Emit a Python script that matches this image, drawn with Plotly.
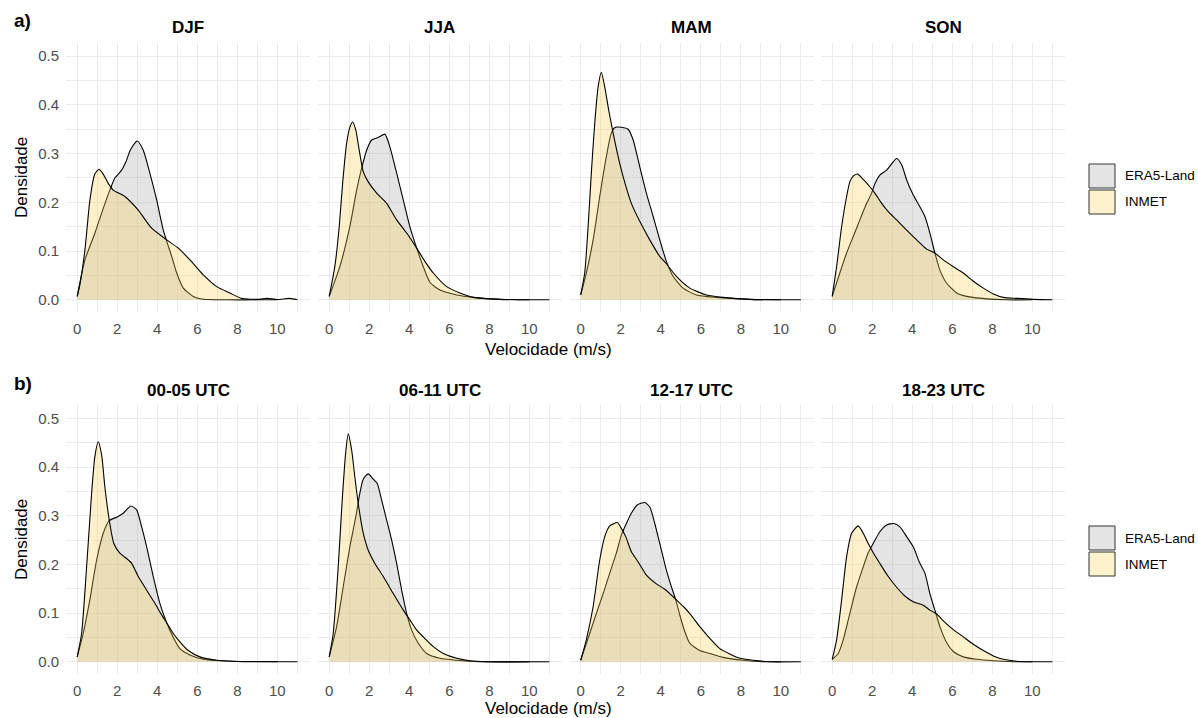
import plotly.graph_objects as go

W, H = 1198, 718

# ---------------- data ----------------
titles_top = ["DJF", "JJA", "MAM", "SON"]
titles_bottom = ["00-05 UTC", "06-11 UTC", "12-17 UTC", "18-23 UTC"]
series_names = ["ERA5-Land", "INMET"]
x_ticks = [0, 2, 4, 6, 8, 10]
y_ticks = [0.0, 0.1, 0.2, 0.3, 0.4, 0.5]

djf_era_x = [0, 0.385, 0.885, 1.22, 1.63, 1.88, 2.2, 2.45, 2.65, 3.0, 3.3, 3.63, 3.97, 4.3, 4.72, 4.97, 5.3, 5.8, 6.3, 7.5, 9.0, 10.0]
djf_era_y = [0.007, 0.082, 0.137, 0.178, 0.225, 0.25, 0.265, 0.285, 0.307, 0.326, 0.307, 0.26, 0.205, 0.143, 0.089, 0.055, 0.024, 0.007, 0.001, 0, 0, 0]
djf_inm_x = [0, 0.13, 0.385, 0.47, 0.635, 0.88, 1.09, 1.3, 1.55, 1.8, 2.38, 3.05, 3.72, 4.47, 5.05, 5.63, 6.3, 6.97, 7.63, 8.2, 9.1, 9.47, 10.0, 10.6, 11.0]
djf_inm_y = [0.007, 0.03, 0.102, 0.137, 0.205, 0.258, 0.268, 0.258, 0.239, 0.225, 0.212, 0.184, 0.147, 0.123, 0.106, 0.082, 0.051, 0.027, 0.014, 0.003, 0.001, 0.003, 0.0007, 0.003, 0.0]

jja_era_x = [0, 0.53, 1.03, 1.37, 1.62, 1.87, 2.12, 2.45, 2.78, 3.03, 3.37, 3.7, 4.03, 4.37, 4.7, 5.03, 5.53, 6.37, 7.2, 8.5, 10.0]
jja_era_y = [0.007, 0.068, 0.15, 0.225, 0.27, 0.307, 0.328, 0.333, 0.34, 0.314, 0.26, 0.205, 0.15, 0.106, 0.068, 0.036, 0.02, 0.01, 0.005, 0.001, 0]
jja_inm_x = [0, 0.28, 0.5, 0.67, 0.87, 1.03, 1.17, 1.33, 1.5, 1.7, 1.95, 2.37, 2.87, 3.37, 3.87, 4.37, 4.78, 5.2, 5.87, 6.53, 7.2, 8.53, 11.0]
jja_inm_y = [0.007, 0.068, 0.15, 0.239, 0.321, 0.354, 0.365, 0.348, 0.307, 0.263, 0.242, 0.219, 0.198, 0.164, 0.137, 0.106, 0.079, 0.055, 0.027, 0.014, 0.005, 0.001, 0]

mam_era_x = [0, 0.28, 0.62, 0.95, 1.28, 1.53, 1.73, 2.03, 2.37, 2.62, 2.95, 3.28, 3.62, 3.95, 4.28, 4.62, 5.12, 5.78, 6.78, 8.45, 10.0]
mam_era_y = [0.01, 0.055, 0.123, 0.212, 0.294, 0.342, 0.354, 0.354, 0.35, 0.328, 0.273, 0.219, 0.171, 0.123, 0.079, 0.048, 0.024, 0.01, 0.005, 0.001, 0]
mam_inm_x = [0, 0.2, 0.37, 0.53, 0.7, 0.87, 1.03, 1.2, 1.4, 1.62, 1.87, 2.12, 2.53, 2.95, 3.45, 3.95, 4.28, 4.78, 5.45, 6.28, 7.12, 8.45, 11.0]
mam_inm_y = [0.01, 0.055, 0.15, 0.26, 0.362, 0.437, 0.467, 0.437, 0.389, 0.342, 0.294, 0.253, 0.198, 0.161, 0.123, 0.089, 0.074, 0.048, 0.024, 0.01, 0.005, 0.001, 0]

son_era_x = [0, 0.38, 0.72, 1.05, 1.38, 1.72, 1.97, 2.13, 2.38, 2.72, 2.97, 3.22, 3.47, 3.72, 4.05, 4.38, 4.63, 4.88, 5.13, 5.38, 5.72, 6.22, 6.72, 7.72, 8.72, 10.0]
son_era_y = [0.007, 0.055, 0.096, 0.13, 0.164, 0.198, 0.219, 0.238, 0.256, 0.266, 0.279, 0.29, 0.277, 0.246, 0.215, 0.191, 0.171, 0.137, 0.096, 0.061, 0.034, 0.014, 0.007, 0.002, 0, 0]
son_inm_x = [0, 0.22, 0.47, 0.72, 0.88, 1.05, 1.27, 1.55, 1.88, 2.13, 2.47, 2.8, 3.22, 3.72, 4.22, 4.72, 5.13, 5.55, 6.05, 6.55, 7.05, 7.55, 8.05, 8.55, 9.22, 10.05, 11.0]
son_inm_y = [0.007, 0.068, 0.15, 0.212, 0.242, 0.254, 0.258, 0.247, 0.232, 0.219, 0.198, 0.181, 0.164, 0.143, 0.123, 0.104, 0.096, 0.082, 0.068, 0.055, 0.038, 0.024, 0.012, 0.005, 0.003, 0.001, 0]

h00_era_x = [0, 0.3, 0.63, 0.97, 1.3, 1.6, 1.97, 2.3, 2.68, 2.97, 3.22, 3.47, 3.8, 4.13, 4.47, 4.8, 5.13, 5.63, 6.3, 7.13, 8.3, 10.0]
h00_era_y = [0.01, 0.058, 0.127, 0.209, 0.264, 0.29, 0.297, 0.305, 0.32, 0.312, 0.277, 0.236, 0.175, 0.12, 0.08, 0.05, 0.027, 0.014, 0.005, 0.002, 0, 0]
h00_inm_x = [0, 0.22, 0.47, 0.72, 0.88, 1.05, 1.22, 1.38, 1.6, 1.83, 2.13, 2.47, 2.72, 3.05, 3.47, 3.88, 4.22, 4.47, 4.8, 5.13, 5.55, 6.13, 6.97, 7.8, 11.0]
h00_inm_y = [0.01, 0.058, 0.195, 0.346, 0.421, 0.452, 0.425, 0.36, 0.291, 0.243, 0.223, 0.212, 0.202, 0.175, 0.147, 0.12, 0.096, 0.08, 0.058, 0.041, 0.023, 0.01, 0.003, 0.001, 0]

h06_era_x = [0, 0.37, 0.7, 1.03, 1.33, 1.53, 1.7, 1.95, 2.2, 2.4, 2.62, 2.87, 3.12, 3.37, 3.62, 3.87, 4.12, 4.45, 4.87, 5.53, 6.37, 7.53, 10.0]
h06_era_y = [0.01, 0.072, 0.154, 0.236, 0.298, 0.346, 0.375, 0.386, 0.375, 0.366, 0.332, 0.291, 0.25, 0.202, 0.147, 0.099, 0.065, 0.038, 0.017, 0.007, 0.003, 0, 0]
h06_inm_x = [0, 0.2, 0.45, 0.65, 0.82, 0.95, 1.12, 1.28, 1.45, 1.7, 1.95, 2.28, 2.7, 3.2, 3.7, 4.03, 4.37, 4.7, 5.2, 5.7, 6.37, 7.03, 7.87, 11.0]
h06_inm_y = [0.01, 0.058, 0.195, 0.332, 0.428, 0.468, 0.435, 0.38, 0.325, 0.264, 0.229, 0.202, 0.175, 0.14, 0.106, 0.086, 0.065, 0.051, 0.031, 0.017, 0.007, 0.002, 0, 0]

h12_era_x = [0, 0.45, 0.78, 1.12, 1.45, 1.78, 2.03, 2.28, 2.53, 2.82, 3.2, 3.45, 3.7, 3.95, 4.28, 4.53, 4.75, 4.95, 5.2, 5.45, 5.95, 6.45, 7.12, 8.12, 9.12, 10.0]
h12_era_y = [0.003, 0.058, 0.099, 0.14, 0.182, 0.223, 0.26, 0.284, 0.305, 0.322, 0.327, 0.318, 0.284, 0.243, 0.188, 0.154, 0.127, 0.096, 0.062, 0.038, 0.023, 0.017, 0.009, 0.003, 0, 0]
h12_inm_x = [0, 0.28, 0.62, 0.95, 1.2, 1.45, 1.83, 2.03, 2.25, 2.53, 2.87, 3.28, 3.78, 4.2, 4.53, 4.78, 5.12, 5.45, 5.95, 6.45, 6.95, 7.45, 7.95, 8.62, 9.45, 11.0]
h12_inm_y = [0.003, 0.045, 0.113, 0.209, 0.257, 0.279, 0.286, 0.274, 0.257, 0.226, 0.205, 0.178, 0.16, 0.149, 0.137, 0.127, 0.114, 0.099, 0.072, 0.048, 0.027, 0.016, 0.007, 0.003, 0, 0]

h18_era_x = [0, 0.3, 0.55, 0.88, 1.22, 1.55, 1.8, 2.05, 2.38, 2.72, 3.08, 3.38, 3.72, 4.05, 4.35, 4.63, 4.88, 5.18, 5.38, 5.72, 6.05, 6.55, 7.22, 8.05, 9.05, 10.0]
h18_era_y = [0.005, 0.017, 0.045, 0.099, 0.154, 0.195, 0.224, 0.243, 0.267, 0.281, 0.284, 0.277, 0.257, 0.236, 0.205, 0.182, 0.14, 0.099, 0.072, 0.039, 0.021, 0.01, 0.005, 0.002, 0, 0]
h18_inm_x = [0, 0.22, 0.47, 0.72, 0.97, 1.3, 1.55, 1.8, 2.05, 2.38, 2.8, 3.22, 3.63, 4.05, 4.55, 4.88, 5.22, 5.55, 6.05, 6.55, 7.05, 7.55, 8.05, 8.55, 9.22, 10.05, 11.0]
h18_inm_y = [0.005, 0.045, 0.127, 0.216, 0.264, 0.279, 0.264, 0.243, 0.224, 0.202, 0.175, 0.153, 0.135, 0.123, 0.116, 0.106, 0.098, 0.084, 0.066, 0.051, 0.036, 0.023, 0.012, 0.005, 0.001, 0, 0]

panel_data = [
    (djf_era_x, djf_era_y, djf_inm_x, djf_inm_y),
    (jja_era_x, jja_era_y, jja_inm_x, jja_inm_y),
    (mam_era_x, mam_era_y, mam_inm_x, mam_inm_y),
    (son_era_x, son_era_y, son_inm_x, son_inm_y),
    (h00_era_x, h00_era_y, h00_inm_x, h00_inm_y),
    (h06_era_x, h06_era_y, h06_inm_x, h06_inm_y),
    (h12_era_x, h12_era_y, h12_inm_x, h12_inm_y),
    (h18_era_x, h18_era_y, h18_inm_x, h18_inm_y),
]

# ---------------- style ----------------
FONT = "Liberation Sans, Arial, sans-serif"
ERA_FILL = "rgba(166,166,166,0.3)"
INM_FILL = "rgba(245,210,80,0.3)"
ERA_KEY = "#E4E4E4"
INM_KEY = "#FCF2CD"
GRID = "#EBEBEB"
TICKCOL = "#4D4D4D"

panel_left_px = [66, 318, 569.5, 821]
panel_w_px = 244
row_px = [(43, 312), (405.2, 673.9)]  # top, bottom in pixels

XR = [-0.56, 11.63]
YR = [-0.025, 0.527]

fig = go.Figure()
layout = dict(
    width=W, height=H,
    margin=dict(l=0, r=0, t=0, b=0),
    paper_bgcolor="white", plot_bgcolor="white",
    showlegend=False,
    font=dict(family=FONT, color="black"),
)

for i, (ex, ey, ix, iy) in enumerate(panel_data):
    n = i + 1
    xa = "x" if n == 1 else f"x{n}"
    ya = "y" if n == 1 else f"y{n}"
    fig.add_trace(go.Scatter(
        x=ex, y=ey, xaxis=xa, yaxis=ya, mode="lines", name=series_names[0],
        line=dict(color="black", width=1.1, shape="spline", smoothing=0.6),
        fill="tozeroy", fillcolor=ERA_FILL, hoverinfo="skip"))
    fig.add_trace(go.Scatter(
        x=ix, y=iy, xaxis=xa, yaxis=ya, mode="lines", name=series_names[1],
        line=dict(color="black", width=1.1, shape="spline", smoothing=0.6),
        fill="tozeroy", fillcolor=INM_FILL, hoverinfo="skip"))

    row = 0 if i < 4 else 1
    col = i % 4
    left = panel_left_px[col]
    top, bot = row_px[row]
    xdom = [left / W, (left + panel_w_px) / W]
    ydom = [1 - bot / H, 1 - top / H]
    xkey = "xaxis" if n == 1 else f"xaxis{n}"
    ykey = "yaxis" if n == 1 else f"yaxis{n}"
    layout[xkey] = dict(
        domain=xdom, range=XR, anchor=ya, tickvals=x_ticks,
        showgrid=True, gridcolor=GRID, gridwidth=1.4,
        minor=dict(dtick=1, tick0=0, showgrid=True, gridcolor=GRID, gridwidth=0.9),
        zeroline=False, showline=False, ticks="",
        tickfont=dict(size=15, color=TICKCOL, family=FONT),
        ticklabelstandoff=6, fixedrange=True)
    layout[ykey] = dict(
        domain=ydom, range=YR, anchor=xa, tickvals=y_ticks, tickformat=".1f",
        showgrid=True, gridcolor=GRID, gridwidth=1.4,
        minor=dict(dtick=0.05, tick0=0, showgrid=True, gridcolor=GRID, gridwidth=0.9),
        zeroline=False, showline=False, ticks="",
        showticklabels=(col == 0),
        tickfont=dict(size=15, color=TICKCOL, family=FONT),
        ticklabelstandoff=6, fixedrange=True)

fig.update_layout(**layout)

ann = []
def add_text(text, px, py, size, bold=False, color="black", xanchor="center", angle=0):
    ann.append(dict(
        text=f"<b>{text}</b>" if bold else text,
        x=px / W, y=1 - py / H, xref="paper", yref="paper",
        xanchor=xanchor, yanchor="middle", showarrow=False, textangle=angle,
        font=dict(size=size, color=color, family=FONT)))

centers = [left + panel_w_px / 2 for left in panel_left_px]
for c, t in zip(centers, titles_top):
    add_text(t, c, 28, 17, bold=True)
for c, t in zip(centers, titles_bottom):
    add_text(t, c, 390, 17, bold=True)

add_text("a)", 12, 20, 19, bold=True, xanchor="left")
add_text("b)", 12, 383, 19, bold=True, xanchor="left")

add_text("Velocidade (m/s)", 548, 349, 17)
add_text("Velocidade (m/s)", 548, 708, 17)
add_text("Densidade", 21, 178, 17, angle=-90)
add_text("Densidade", 21, 540, 17, angle=-90)

shapes = []
for off in (0, 362):
    for k, (name, col) in enumerate(zip(series_names, [ERA_KEY, INM_KEY])):
        y0 = 164 + off + k * 26
        shapes.append(dict(type="rect", xref="paper", yref="paper",
                           x0=1089 / W, x1=1115 / W, y0=1 - (y0 + 24) / H, y1=1 - y0 / H,
                           fillcolor=col, line=dict(color="#333333", width=1)))
        add_text(name, 1123, y0 + 12, 13.5, xanchor="left")

fig.update_layout(annotations=ann, shapes=shapes)
fig.write_html(
    "out.html",
    config={"displayModeBar": False, "staticPlot": False},
    post_script="document.body.style.margin='0';document.body.style.overflow='hidden';",
)
